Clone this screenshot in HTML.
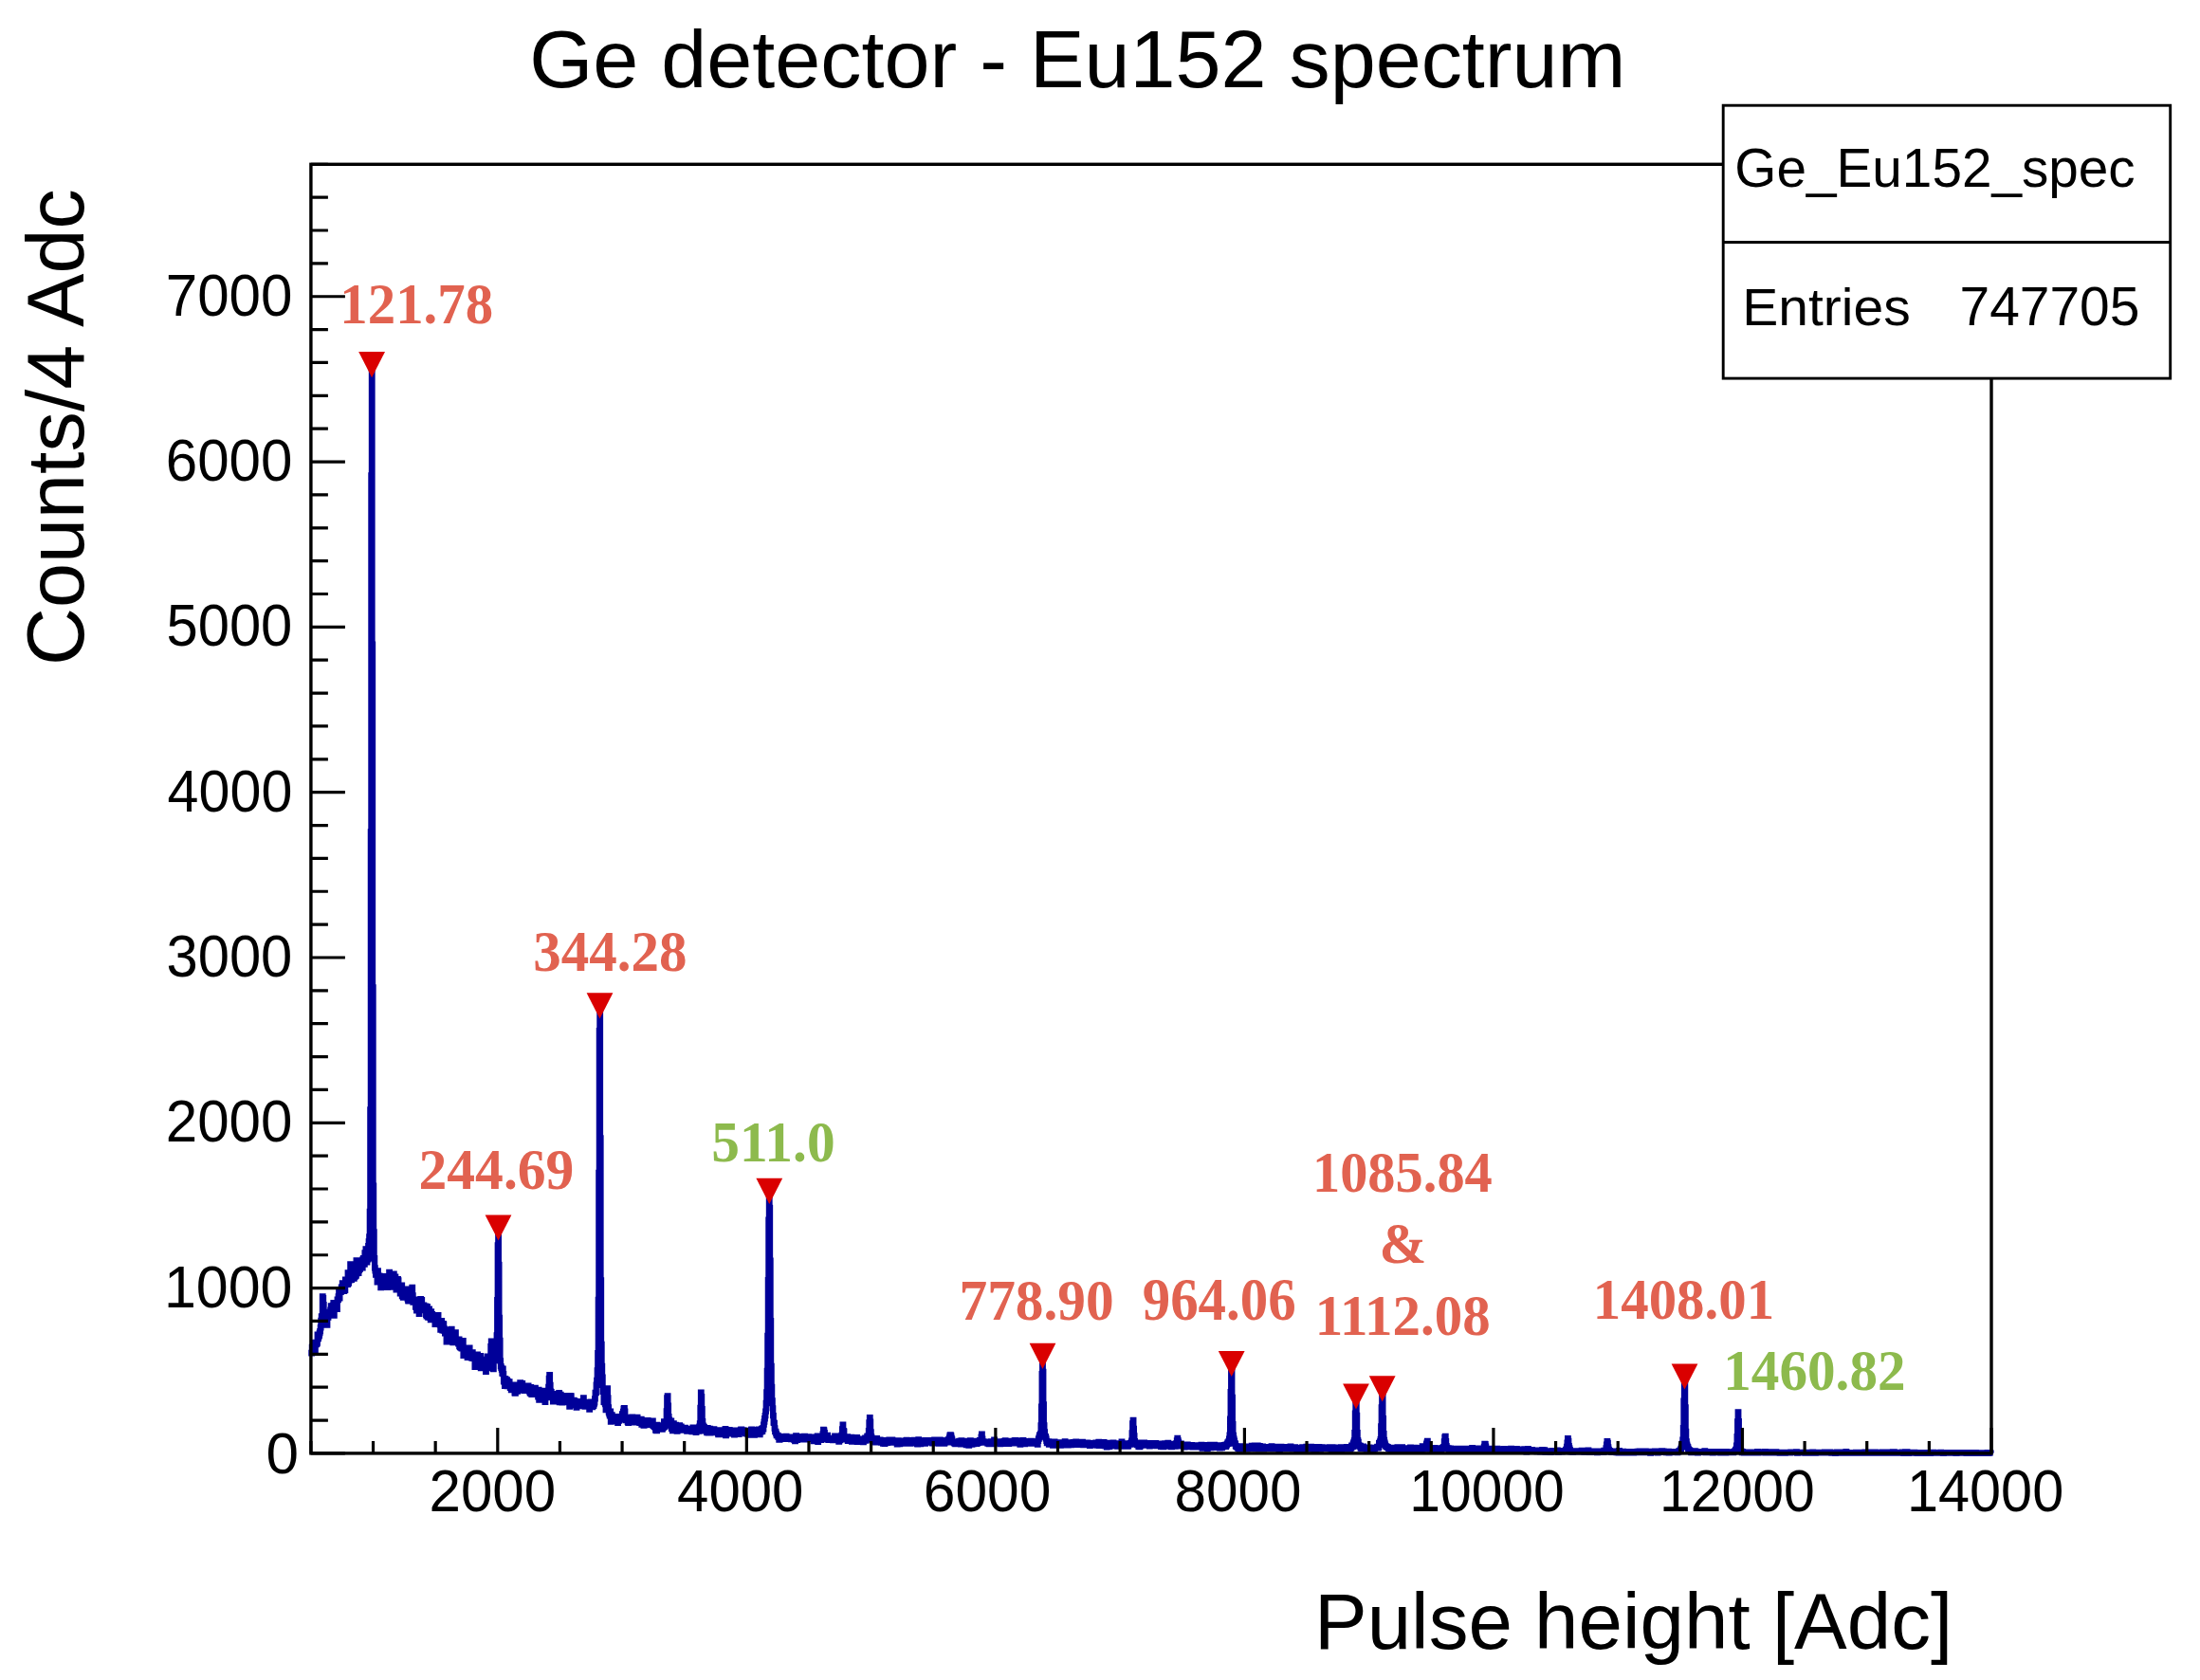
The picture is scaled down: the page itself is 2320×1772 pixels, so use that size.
<!DOCTYPE html>
<html><head><meta charset="utf-8"><title>Ge detector - Eu152 spectrum</title>
<style>html,body{margin:0;padding:0;background:#fff;}svg{display:block;}</style></head>
<body><svg width="2320" height="1772" viewBox="0 0 2320 1772">
<rect width="2320" height="1772" fill="#fff"/>
<path d="M327.90 1423.76H328.43V1427.38H328.95V1420.98H329.48V1420.67H330.00V1416.81H330.53V1420.20H331.05V1416.19H331.58V1422.40H332.10V1424.16H332.63V1416.00H333.15V1418.06H333.68V1417.60H334.20V1416.55H334.73V1407.68H335.25V1412.12H335.78V1409.85H336.30V1408.68H336.83V1406.01H337.35V1404.16H337.88V1400.23H338.40V1392.84H338.93V1388.39H339.45V1389.65H339.98V1367.45H340.50V1369.16H341.03V1376.05H341.55V1389.93H342.08V1390.29H342.60V1388.21H343.13V1389.68H343.65V1384.93H344.18V1392.54H344.70V1397.63H345.23V1383.96H345.75V1389.50H346.28V1385.59H346.80V1385.52H347.33V1387.53H347.85V1386.86H348.38V1381.75H348.90V1377.39H349.43V1387.09H349.95V1382.13H350.48V1378.52H351.00V1376.79H351.53V1374.18H352.05V1387.56H352.58V1374.72H353.10V1375.96H353.63V1378.09H354.15V1374.73H354.68V1374.49H355.20V1380.91H355.73V1370.59H356.25V1371.21H356.78V1367.46H357.30V1361.48H357.83V1369.28H358.35V1362.12H358.88V1362.81H359.40V1362.46H359.93V1357.67H360.45V1358.95H360.98V1353.42H361.50V1359.74H362.03V1361.47H362.55V1361.86H363.08V1359.35H363.60V1360.75H364.13V1349.55H364.65V1351.39H365.18V1354.72H365.70V1351.97H366.23V1354.85H366.75V1342.47H367.28V1353.64H367.81V1344.52H368.33V1349.77H368.86V1350.43H369.38V1333.31H369.91V1346.71H370.43V1349.89H370.96V1344.48H371.48V1342.04H372.01V1347.00H372.53V1343.97H373.06V1348.64H373.58V1344.27H374.11V1346.71H374.63V1335.68H375.16V1345.68H375.68V1329.46H376.21V1343.02H376.73V1335.24H377.26V1334.58H377.78V1342.95H378.31V1339.88H378.83V1335.59H379.36V1338.71H379.88V1335.31H380.41V1332.50H380.93V1334.59H381.46V1331.34H381.98V1337.42H382.51V1328.39H383.03V1327.06H383.56V1330.92H384.08V1333.61H384.61V1321.48H385.13V1324.59H385.66V1317.40H386.18V1321.92H386.71V1331.30H387.23V1317.84H387.76V1328.25H388.28V1314.14H388.81V1309.48H389.33V1304.52H389.86V1278.02H390.38V1170.52H390.91V877.40H391.43V501.36H391.96V384.60H392.48V679.59H393.01V1041.30H393.53V1250.67H394.06V1299.42H394.58V1327.26H395.11V1337.46H395.63V1340.41H396.16V1344.64H396.68V1342.22H397.21V1342.23H397.73V1352.30H398.26V1340.36H398.78V1350.39H399.31V1347.19H399.83V1345.60H400.36V1348.61H400.88V1348.94H401.41V1358.00H401.93V1348.38H402.46V1355.51H402.98V1350.64H403.51V1347.54H404.03V1350.23H404.56V1349.21H405.08V1348.93H405.61V1347.16H406.13V1352.37H406.66V1346.16H407.19V1350.32H407.71V1348.42H408.24V1357.92H408.76V1352.75H409.29V1354.55H409.81V1351.75H410.34V1341.85H410.86V1357.57H411.39V1351.52H411.91V1348.72H412.44V1345.63H412.96V1348.32H413.49V1346.41H414.01V1356.80H414.54V1349.27H415.06V1343.66H415.59V1353.66H416.11V1353.32H416.64V1346.76H417.16V1349.53H417.69V1360.30H418.21V1351.07H418.74V1359.62H419.26V1349.06H419.79V1350.50H420.31V1357.57H420.84V1359.60H421.36V1359.70H421.89V1364.25H422.41V1363.76H422.94V1363.27H423.46V1355.62H423.99V1367.08H424.51V1364.17H425.04V1368.52H425.56V1359.83H426.09V1363.15H426.61V1365.87H427.14V1362.07H427.66V1359.61H428.19V1364.99H428.71V1367.57H429.24V1361.55H429.76V1370.19H430.29V1372.17H430.81V1372.23H431.34V1364.13H431.86V1370.73H432.39V1364.89H432.91V1368.83H433.44V1368.02H433.96V1372.41H434.49V1357.97H435.01V1366.35H435.54V1373.70H436.06V1372.89H436.59V1371.20H437.11V1370.54H437.64V1370.93H438.16V1378.57H438.69V1371.09H439.21V1382.27H439.74V1377.42H440.26V1374.63H440.79V1379.55H441.31V1381.66H441.84V1385.84H442.36V1370.61H442.89V1373.01H443.41V1370.23H443.94V1374.26H444.46V1371.06H444.99V1378.70H445.51V1380.42H446.04V1380.37H446.57V1376.60H447.09V1382.03H447.62V1377.67H448.14V1380.43H448.67V1377.70H449.19V1386.83H449.72V1388.40H450.24V1378.12H450.77V1381.76H451.29V1389.56H451.82V1384.46H452.34V1380.55H452.87V1387.16H453.39V1389.74H453.92V1392.00H454.44V1383.45H454.97V1386.15H455.49V1386.19H456.02V1390.82H456.54V1389.83H457.07V1390.16H457.59V1388.42H458.12V1389.50H458.64V1396.80H459.17V1390.61H459.69V1395.84H460.22V1390.69H460.74V1393.10H461.27V1395.06H461.79V1387.10H462.32V1394.31H462.84V1394.74H463.37V1394.59H463.89V1397.40H464.42V1402.58H464.94V1397.09H465.47V1393.24H465.99V1398.57H466.52V1403.30H467.04V1396.04H467.57V1396.62H468.09V1401.51H468.62V1403.87H469.14V1406.39H469.67V1402.46H470.19V1406.37H470.72V1415.47H471.24V1409.01H471.77V1412.92H472.29V1412.68H472.82V1409.78H473.34V1408.21H473.87V1403.82H474.39V1410.99H474.92V1413.42H475.44V1408.00H475.97V1401.83H476.49V1408.41H477.02V1413.80H477.54V1416.08H478.07V1414.51H478.59V1410.43H479.12V1415.24H479.64V1408.35H480.17V1405.31H480.69V1416.20H481.22V1413.60H481.74V1412.78H482.27V1414.48H482.79V1416.04H483.32V1417.44H483.84V1412.77H484.37V1419.95H484.89V1420.91H485.42V1421.28H485.95V1417.80H486.47V1422.16H487.00V1422.24H487.52V1420.25H488.05V1414.11H488.57V1429.90H489.10V1421.54H489.62V1421.62H490.15V1423.78H490.67V1426.39H491.20V1425.44H491.72V1429.52H492.25V1427.53H492.77V1431.77H493.30V1423.70H493.82V1423.94H494.35V1424.76H494.87V1421.74H495.40V1430.56H495.92V1428.28H496.45V1427.90H496.97V1432.25H497.50V1430.98H498.02V1426.30H498.55V1432.87H499.07V1432.04H499.60V1430.03H500.12V1429.79H500.65V1441.85H501.17V1438.20H501.70V1436.93H502.22V1436.39H502.75V1433.34H503.27V1428.66H503.80V1437.16H504.32V1433.80H504.85V1435.75H505.37V1430.74H505.90V1438.03H506.42V1430.21H506.95V1442.98H507.47V1437.38H508.00V1438.44H508.52V1435.51H509.05V1437.91H509.57V1436.31H510.10V1436.49H510.62V1438.14H511.15V1434.02H511.67V1437.77H512.20V1446.84H512.72V1436.48H513.25V1436.17H513.77V1430.74H514.30V1436.00H514.82V1440.48H515.35V1443.07H515.87V1439.25H516.40V1432.54H516.92V1431.66H517.45V1420.13H517.97V1414.55H518.50V1426.40H519.02V1434.98H519.55V1436.01H520.07V1444.15H520.60V1435.21H521.12V1434.12H521.65V1432.77H522.17V1431.56H522.70V1431.66H523.22V1423.37H523.75V1408.48H524.27V1371.22H524.80V1313.52H525.33V1295.00H525.85V1333.84H526.38V1389.86H526.90V1413.91H527.43V1435.30H527.95V1441.11H528.48V1442.82H529.00V1444.50H529.53V1448.50H530.05V1443.54H530.58V1449.09H531.10V1457.23H531.63V1456.19H532.15V1461.91H532.68V1454.16H533.20V1459.07H533.73V1459.78H534.25V1455.28H534.78V1462.18H535.30V1456.78H535.83V1458.48H536.35V1462.11H536.88V1457.29H537.40V1461.95H537.93V1463.80H538.45V1462.04H538.98V1466.20H539.50V1461.77H540.03V1460.60H540.55V1465.35H541.08V1460.62H541.60V1461.38H542.13V1463.47H542.65V1469.41H543.18V1469.72H543.70V1464.25H544.23V1460.85H544.75V1460.57H545.28V1467.55H545.80V1462.08H546.33V1466.24H546.85V1466.10H547.38V1463.60H547.90V1465.69H548.43V1458.29H548.95V1466.45H549.48V1465.43H550.00V1461.44H550.53V1459.23H551.05V1465.03H551.58V1462.82H552.10V1464.47H552.63V1466.87H553.15V1462.44H553.68V1466.02H554.20V1466.04H554.73V1462.81H555.25V1466.68H555.78V1465.96H556.30V1462.87H556.83V1461.71H557.35V1463.51H557.88V1466.35H558.40V1468.15H558.93V1469.50H559.45V1463.16H559.98V1465.28H560.50V1470.95H561.03V1466.26H561.55V1468.23H562.08V1467.24H562.60V1467.58H563.13V1467.77H563.65V1469.00H564.18V1464.01H564.71V1468.80H565.23V1470.03H565.76V1467.70H566.28V1468.78H566.81V1466.90H567.33V1473.32H567.86V1465.95H568.38V1476.67H568.91V1472.41H569.43V1470.68H569.96V1472.34H570.48V1473.54H571.01V1471.48H571.53V1472.98H572.06V1469.44H572.58V1472.27H573.11V1474.95H573.63V1475.25H574.16V1466.80H574.68V1478.77H575.21V1474.07H575.73V1473.86H576.26V1468.72H576.78V1471.95H577.31V1474.17H577.83V1467.34H578.36V1462.78H578.88V1454.02H579.41V1450.15H579.93V1460.90H580.46V1467.57H580.98V1468.03H581.51V1472.52H582.03V1473.88H582.56V1472.60H583.08V1478.38H583.61V1474.11H584.13V1471.53H584.66V1470.09H585.18V1471.74H585.71V1472.95H586.23V1473.85H586.76V1475.79H587.28V1474.03H587.81V1474.05H588.33V1476.28H588.86V1473.18H589.38V1469.19H589.91V1478.98H590.43V1474.69H590.96V1470.85H591.48V1476.35H592.01V1476.95H592.53V1479.33H593.06V1475.79H593.58V1476.39H594.11V1479.07H594.63V1473.00H595.16V1472.13H595.68V1477.92H596.21V1476.89H596.73V1473.64H597.26V1474.69H597.78V1474.70H598.31V1478.58H598.83V1477.71H599.36V1478.62H599.88V1476.42H600.41V1483.70H600.93V1472.17H601.46V1482.27H601.98V1472.51H602.51V1477.43H603.03V1479.67H603.56V1480.73H604.09V1479.86H604.61V1476.78H605.14V1478.73H605.66V1477.41H606.19V1478.62H606.71V1478.65H607.24V1481.34H607.76V1484.62H608.29V1480.64H608.81V1478.74H609.34V1481.58H609.86V1481.00H610.39V1479.68H610.91V1478.07H611.44V1480.16H611.96V1482.24H612.49V1480.78H613.01V1483.16H613.54V1481.69H614.06V1479.48H614.59V1480.39H615.11V1474.32H615.64V1482.49H616.16V1482.65H616.69V1483.55H617.21V1481.79H617.74V1480.02H618.26V1483.30H618.79V1482.57H619.31V1483.62H619.84V1480.82H620.36V1482.17H620.89V1478.92H621.41V1486.64H621.94V1482.20H622.46V1481.46H622.99V1478.64H623.51V1479.79H624.04V1482.22H624.56V1484.11H625.09V1480.63H625.61V1482.78H626.14V1481.07H626.66V1479.27H627.19V1475.38H627.71V1468.99H628.24V1469.12H628.76V1460.77H629.29V1455.91H629.81V1445.36H630.34V1427.03H630.86V1370.82H631.39V1236.79H631.91V1087.13H632.44V1060.80H632.96V1200.30H633.49V1350.44H634.01V1417.97H634.54V1440.90H635.06V1452.75H635.59V1467.87H636.11V1465.67H636.64V1478.75H637.16V1479.09H637.69V1478.43H638.21V1481.03H638.74V1487.17H639.26V1477.20H639.79V1468.91H640.31V1464.45H640.84V1474.49H641.36V1484.36H641.89V1489.58H642.41V1491.31H642.94V1493.26H643.47V1488.70H643.99V1499.62H644.52V1497.36H645.04V1492.48H645.57V1496.90H646.09V1497.09H646.62V1498.13H647.14V1499.03H647.67V1499.04H648.19V1497.42H648.72V1498.61H649.24V1498.76H649.77V1497.88H650.29V1497.44H650.82V1496.11H651.34V1500.86H651.87V1494.20H652.39V1498.64H652.92V1496.70H653.44V1497.40H653.97V1497.15H654.49V1496.37H655.02V1496.65H655.54V1497.05H656.07V1491.51H656.59V1494.64H657.12V1488.88H657.64V1485.65H658.17V1485.14H658.69V1488.66H659.22V1495.32H659.74V1498.03H660.27V1496.41H660.79V1494.87H661.32V1496.89H661.84V1499.84H662.37V1500.95H662.89V1499.80H663.42V1496.71H663.94V1495.98H664.47V1497.17H664.99V1498.06H665.52V1499.55H666.04V1494.95H666.57V1494.66H667.09V1497.47H667.62V1500.29H668.14V1497.77H668.67V1498.51H669.19V1498.95H669.72V1498.81H670.24V1496.29H670.77V1498.95H671.29V1499.55H671.82V1494.81H672.34V1499.99H672.87V1496.88H673.39V1497.92H673.92V1499.99H674.44V1500.73H674.97V1496.88H675.49V1497.18H676.02V1496.88H676.54V1502.51H677.07V1500.46H677.59V1499.76H678.12V1498.76H678.64V1503.68H679.17V1500.46H679.69V1498.87H680.22V1503.06H680.74V1498.65H681.27V1498.69H681.79V1501.25H682.32V1499.21H682.85V1498.06H683.37V1502.69H683.90V1501.69H684.42V1500.99H684.95V1502.96H685.47V1499.29H686.00V1502.59H686.52V1502.77H687.05V1502.81H687.57V1501.37H688.10V1498.59H688.62V1503.81H689.15V1504.15H689.67V1504.33H690.20V1505.08H690.72V1505.24H691.25V1508.65H691.77V1503.32H692.30V1509.10H692.82V1502.88H693.35V1505.10H693.87V1505.40H694.40V1505.11H694.92V1504.37H695.45V1503.93H695.97V1506.75H696.50V1504.98H697.02V1503.65H697.55V1504.39H698.07V1507.49H698.60V1503.62H699.12V1506.22H699.65V1504.58H700.17V1499.38H700.70V1504.74H701.22V1499.55H701.75V1503.61H702.27V1499.70H702.80V1488.28H703.32V1474.30H703.85V1472.45H704.37V1482.73H704.90V1494.14H705.42V1497.54H705.95V1503.15H706.47V1501.94H707.00V1502.24H707.52V1498.55H708.05V1506.79H708.57V1503.95H709.10V1509.03H709.62V1507.57H710.15V1501.36H710.67V1506.11H711.20V1505.96H711.72V1504.48H712.25V1503.01H712.77V1506.71H713.30V1505.53H713.82V1509.53H714.35V1508.35H714.87V1506.58H715.40V1505.69H715.92V1505.70H716.45V1503.48H716.97V1507.18H717.50V1508.37H718.02V1504.53H718.55V1506.63H719.07V1508.28H719.60V1508.00H720.12V1507.57H720.65V1508.48H721.17V1506.43H721.70V1508.67H722.23V1505.87H722.75V1507.23H723.28V1508.14H723.80V1508.01H724.33V1509.66H724.85V1508.93H725.38V1508.95H725.90V1509.12H726.43V1507.51H726.95V1508.27H727.48V1508.88H728.00V1509.35H728.53V1506.85H729.05V1508.94H729.58V1510.15H730.10V1508.38H730.63V1505.71H731.15V1510.01H731.68V1508.09H732.20V1509.87H732.73V1509.43H733.25V1507.20H733.78V1510.74H734.30V1508.92H734.83V1508.22H735.35V1507.40H735.88V1506.79H736.40V1509.57H736.93V1506.45H737.45V1504.77H737.98V1501.32H738.50V1484.87H739.03V1468.55H739.55V1473.05H740.08V1486.13H740.60V1499.13H741.13V1503.73H741.65V1507.50H742.18V1504.90H742.70V1509.46H743.23V1507.80H743.75V1506.23H744.28V1508.69H744.80V1508.29H745.33V1511.12H745.85V1506.09H746.38V1506.68H746.90V1511.43H747.43V1510.25H747.95V1507.88H748.48V1506.99H749.00V1511.29H749.53V1509.96H750.05V1509.67H750.58V1510.86H751.10V1510.72H751.63V1509.83H752.15V1508.36H752.68V1507.32H753.20V1508.37H753.73V1510.74H754.25V1510.89H754.78V1509.86H755.30V1510.61H755.83V1508.69H756.35V1508.99H756.88V1511.81H757.40V1513.00H757.93V1509.60H758.45V1509.30H758.98V1513.00H759.50V1508.41H760.03V1511.08H760.55V1512.71H761.08V1509.30H761.61V1509.90H762.13V1510.04H762.66V1509.90H763.18V1509.60H763.71V1510.19H764.23V1509.90H764.76V1507.08H765.28V1514.20H765.81V1510.05H766.33V1510.64H766.86V1510.05H767.38V1510.35H767.91V1511.98H768.43V1508.27H768.96V1508.13H769.48V1510.50H770.01V1510.05H770.53V1510.20H771.06V1511.69H771.58V1508.72H772.11V1512.28H772.63V1510.50H773.16V1511.39H773.68V1510.50H774.21V1513.32H774.73V1510.65H775.26V1510.95H775.78V1510.95H776.31V1508.73H776.83V1510.65H777.36V1509.77H777.88V1509.17H778.41V1511.40H778.93V1512.88H779.46V1510.36H779.98V1510.81H780.51V1509.62H781.03V1507.99H781.56V1507.55H782.08V1510.96H782.61V1509.62H783.13V1508.44H783.66V1511.26H784.18V1508.59H784.71V1508.74H785.23V1510.22H785.76V1510.37H786.28V1512.15H786.81V1510.52H787.33V1509.33H787.86V1512.30H788.38V1510.37H788.91V1512.89H789.43V1509.48H789.96V1509.78H790.48V1512.30H791.01V1513.49H791.53V1509.64H792.06V1507.86H792.58V1507.71H793.11V1510.97H793.63V1510.97H794.16V1508.16H794.68V1510.68H795.21V1513.49H795.73V1509.05H796.26V1512.75H796.78V1511.86H797.31V1509.79H797.83V1512.60H798.36V1511.72H798.88V1510.23H799.41V1509.48H799.93V1507.55H800.46V1511.37H800.99V1513.10H801.51V1509.45H802.04V1510.33H802.56V1507.99H803.09V1506.94H803.61V1509.75H804.14V1506.37H804.66V1507.33H805.19V1502.55H805.71V1499.72H806.24V1496.23H806.76V1493.04H807.29V1488.65H807.81V1479.98H808.34V1468.30H808.86V1446.00H809.39V1408.90H809.91V1350.26H810.44V1286.71H810.96V1256.40H811.49V1274.01H812.01V1329.57H812.54V1393.07H813.06V1440.79H813.59V1462.92H814.11V1477.38H814.64V1485.44H815.16V1493.04H815.69V1500.57H816.21V1500.85H816.74V1506.52H817.26V1510.10H817.79V1509.82H818.31V1512.21H818.84V1514.14H819.36V1513.98H819.89V1513.90H820.41V1515.60H820.94V1515.00H821.46V1518.49H821.99V1518.40H822.51V1517.11H823.04V1516.54H823.56V1517.28H824.09V1516.99H824.61V1517.88H825.14V1517.29H825.66V1516.84H826.19V1515.66H826.71V1515.66H827.24V1515.81H827.76V1515.22H828.29V1516.26H828.81V1514.78H829.34V1516.11H829.86V1517.15H830.39V1517.30H830.91V1516.41H831.44V1517.75H831.96V1517.16H832.49V1515.53H833.01V1517.46H833.54V1517.01H834.06V1518.20H834.59V1516.42H835.11V1515.53H835.64V1517.46H836.16V1515.83H836.69V1517.76H837.21V1518.50H837.74V1518.36H838.26V1520.14H838.79V1517.62H839.31V1514.51H839.84V1517.62H840.37V1518.81H840.89V1517.33H841.42V1516.44H841.94V1517.33H842.47V1515.11H842.99V1516.89H843.52V1517.33H844.04V1516.45H844.57V1517.48H845.09V1517.78H845.62V1517.78H846.14V1518.38H846.67V1516.60H847.19V1517.94H847.72V1517.05H848.24V1514.83H848.77V1517.35H849.29V1518.24H849.82V1518.24H850.34V1515.28H850.87V1515.43H851.39V1517.21H851.92V1517.65H852.44V1515.43H852.97V1516.03H853.49V1515.88H854.02V1516.77H854.54V1516.77H855.07V1517.96H855.59V1516.92H856.12V1515.59H856.64V1517.37H857.17V1516.48H857.69V1520.19H858.22V1516.78H858.74V1517.67H859.27V1519.45H859.79V1517.82H860.32V1519.90H860.84V1518.86H861.37V1517.83H861.89V1514.72H862.42V1520.79H862.94V1518.27H863.47V1518.56H863.99V1515.87H864.52V1516.86H865.04V1518.68H865.57V1518.96H866.09V1515.73H866.62V1515.86H867.14V1516.14H867.67V1512.50H868.19V1507.85H868.72V1508.75H869.24V1511.14H869.77V1517.46H870.29V1515.77H870.82V1518.14H871.34V1516.32H871.87V1517.23H872.39V1513.92H872.92V1517.08H873.44V1518.88H873.97V1516.97H874.49V1518.60H875.02V1518.16H875.54V1517.27H876.07V1517.57H876.59V1517.57H877.12V1518.91H877.64V1518.91H878.17V1519.06H878.69V1519.21H879.22V1518.91H879.75V1517.58H880.27V1514.62H880.80V1517.88H881.32V1518.47H881.85V1517.73H882.37V1516.40H882.90V1515.96H883.42V1518.02H883.95V1518.75H884.47V1520.62H885.00V1514.74H885.52V1519.15H886.05V1515.72H886.57V1516.72H887.10V1516.06H887.62V1513.54H888.15V1507.49H888.67V1502.65H889.20V1509.20H889.72V1509.60H890.25V1517.11H890.77V1516.71H891.30V1518.45H891.82V1516.73H892.35V1517.99H892.87V1518.11H893.40V1515.50H893.92V1519.97H894.45V1518.80H894.97V1518.36H895.50V1517.33H896.02V1518.66H896.55V1517.33H897.07V1518.96H897.60V1515.85H898.12V1520.59H898.65V1520.45H899.17V1518.23H899.70V1517.93H900.22V1516.45H900.75V1518.53H901.27V1518.53H901.80V1516.31H902.32V1518.69H902.85V1518.69H903.37V1516.18H903.90V1520.93H904.42V1518.27H904.95V1518.57H905.47V1518.13H906.00V1519.77H906.52V1518.30H907.05V1519.04H907.57V1518.31H908.10V1517.57H908.62V1517.73H909.15V1519.07H909.67V1518.78H910.20V1521.15H910.72V1518.49H911.25V1517.75H911.77V1518.93H912.30V1516.67H912.82V1519.70H913.35V1518.62H913.87V1518.27H914.40V1514.89H914.92V1514.74H915.45V1516.59H915.97V1509.22H916.50V1500.52H917.02V1495.25H917.55V1499.76H918.07V1510.34H918.60V1515.44H919.13V1516.81H919.65V1517.29H920.18V1519.96H920.70V1519.44H921.23V1520.24H921.75V1520.64H922.28V1518.32H922.80V1518.63H923.33V1521.31H923.85V1521.03H924.38V1517.18H924.90V1519.11H925.43V1519.27H925.95V1520.46H926.48V1520.47H927.00V1520.32H927.53V1518.70H928.05V1521.37H928.58V1519.01H929.10V1521.53H929.63V1519.61H930.15V1521.55H930.68V1519.18H931.20V1522.60H931.73V1519.94H932.25V1521.42H932.78V1522.91H933.30V1521.59H933.83V1521.89H934.35V1519.97H934.88V1521.75H935.40V1521.91H935.93V1519.99H936.45V1520.88H936.98V1520.00H937.50V1518.67H938.03V1521.64H938.55V1519.86H939.08V1521.19H939.60V1520.45H940.13V1521.05H940.65V1518.67H941.18V1521.64H941.70V1520.01H942.23V1521.34H942.75V1520.75H943.28V1520.01H943.80V1519.71H944.33V1520.89H944.85V1521.49H945.38V1519.71H945.90V1523.26H946.43V1522.08H946.95V1519.41H947.48V1520.74H948.00V1520.15H948.53V1523.11H949.05V1522.22H949.58V1522.37H950.10V1520.00H950.63V1520.44H951.15V1520.89H951.68V1520.15H952.20V1520.44H952.73V1521.18H953.25V1521.03H953.78V1519.55H954.30V1522.66H954.83V1520.14H955.35V1519.40H955.88V1518.81H956.40V1521.03H956.93V1522.07H957.45V1519.99H957.98V1522.22H958.51V1522.07H959.03V1522.66H959.56V1522.66H960.08V1521.18H960.61V1519.25H961.13V1521.47H961.66V1521.47H962.18V1521.62H962.71V1520.43H963.23V1519.25H963.76V1518.80H964.28V1522.21H964.81V1522.06H965.33V1522.06H965.86V1520.88H966.38V1521.02H966.91V1522.80H967.43V1523.39H967.96V1522.21H968.48V1518.35H969.01V1522.35H969.53V1521.02H970.06V1520.13H970.58V1523.09H971.11V1521.76H971.63V1520.87H972.16V1520.72H972.68V1520.13H973.21V1519.38H973.73V1521.90H974.26V1520.42H974.78V1522.49H975.31V1522.64H975.83V1519.23H976.36V1519.97H976.88V1520.86H977.41V1519.23H977.93V1520.41H978.46V1520.56H978.98V1519.97H979.51V1521.00H980.03V1520.71H980.56V1519.67H981.08V1520.70H981.61V1521.44H982.13V1521.59H982.66V1520.11H983.18V1522.33H983.71V1522.18H984.23V1519.07H984.76V1521.29H985.28V1518.63H985.81V1521.00H986.33V1520.56H986.86V1520.12H987.38V1519.82H987.91V1519.82H988.43V1521.31H988.96V1521.01H989.48V1519.98H990.01V1522.50H990.53V1519.09H991.06V1518.65H991.58V1519.84H992.11V1519.25H992.63V1521.03H993.16V1520.14H993.68V1520.59H994.21V1521.33H994.73V1521.48H995.26V1522.67H995.78V1522.23H996.31V1520.45H996.83V1520.75H997.36V1521.03H997.89V1519.38H998.41V1520.21H998.94V1519.66H999.46V1518.74H999.99V1521.27H1000.51V1518.08H1001.04V1516.49H1001.56V1513.78H1002.09V1513.35H1002.61V1514.14H1003.14V1516.64H1003.66V1518.33H1004.19V1521.04H1004.71V1520.54H1005.24V1520.63H1005.76V1521.67H1006.29V1522.35H1006.81V1521.80H1007.34V1523.01H1007.86V1522.13H1008.39V1521.10H1008.91V1521.69H1009.44V1521.25H1009.96V1521.85H1010.49V1521.41H1011.01V1520.37H1011.54V1519.93H1012.06V1521.12H1012.59V1519.78H1013.11V1523.34H1013.64V1519.34H1014.16V1522.01H1014.69V1519.94H1015.21V1521.57H1015.74V1521.42H1016.26V1521.72H1016.79V1521.87H1017.31V1521.72H1017.84V1521.27H1018.36V1522.31H1018.89V1524.09H1019.41V1520.53H1019.94V1523.79H1020.46V1519.79H1020.99V1522.16H1021.51V1524.53H1022.04V1520.38H1022.56V1521.27H1023.09V1519.49H1023.61V1521.71H1024.14V1522.01H1024.66V1523.64H1025.19V1522.16H1025.71V1519.79H1026.24V1523.05H1026.76V1522.90H1027.29V1521.71H1027.81V1519.93H1028.34V1521.27H1028.86V1522.75H1029.39V1521.11H1029.91V1522.74H1030.44V1521.97H1030.96V1521.63H1031.49V1521.85H1032.01V1521.57H1032.54V1520.62H1033.06V1519.03H1033.59V1520.30H1034.11V1520.08H1034.64V1515.55H1035.16V1512.65H1035.69V1517.63H1036.21V1521.11H1036.74V1520.36H1037.27V1521.64H1037.79V1520.91H1038.32V1520.57H1038.84V1521.22H1039.37V1521.54H1039.89V1521.70H1040.42V1521.70H1040.94V1521.11H1041.47V1522.60H1041.99V1521.41H1042.52V1521.56H1043.04V1523.19H1043.57V1521.56H1044.09V1521.56H1044.62V1521.85H1045.14V1520.52H1045.67V1521.70H1046.19V1523.19H1046.72V1520.82H1047.24V1520.81H1047.77V1522.15H1048.29V1518.74H1048.82V1520.52H1049.34V1521.55H1049.87V1521.26H1050.39V1522.30H1050.92V1520.81H1051.44V1521.85H1051.97V1521.85H1052.49V1522.44H1053.02V1521.70H1053.54V1520.96H1054.07V1520.66H1054.59V1523.18H1055.12V1522.00H1055.64V1520.51H1056.17V1522.89H1056.69V1522.89H1057.22V1520.37H1057.74V1521.70H1058.27V1522.44H1058.79V1520.07H1059.32V1520.07H1059.84V1519.33H1060.37V1521.99H1060.89V1520.22H1061.42V1521.70H1061.94V1521.99H1062.47V1521.40H1062.99V1519.92H1063.52V1522.73H1064.04V1521.99H1064.57V1520.81H1065.09V1521.70H1065.62V1522.44H1066.14V1520.21H1066.67V1520.66H1067.19V1522.14H1067.72V1522.44H1068.24V1520.81H1068.77V1521.55H1069.29V1519.62H1069.82V1521.25H1070.34V1519.03H1070.87V1522.29H1071.39V1519.47H1071.92V1521.10H1072.44V1520.36H1072.97V1522.14H1073.49V1520.51H1074.02V1521.54H1074.54V1522.28H1075.07V1520.36H1075.59V1523.62H1076.12V1519.33H1076.65V1519.33H1077.17V1522.44H1077.70V1521.41H1078.22V1523.19H1078.75V1519.04H1079.27V1521.86H1079.80V1520.83H1080.32V1523.20H1080.85V1521.28H1081.37V1522.02H1081.90V1521.58H1082.42V1520.99H1082.95V1520.25H1083.47V1521.44H1084.00V1522.33H1084.52V1521.29H1085.05V1522.33H1085.57V1522.63H1086.10V1521.30H1086.62V1521.60H1087.15V1519.83H1087.67V1521.75H1088.20V1521.31H1088.72V1522.65H1089.25V1522.65H1089.77V1522.35H1090.30V1521.61H1090.82V1522.33H1091.35V1520.52H1091.87V1521.06H1092.40V1522.28H1092.92V1521.34H1093.45V1521.61H1093.97V1523.49H1094.50V1519.95H1095.02V1517.91H1095.55V1516.32H1096.07V1513.55H1096.60V1515.54H1097.12V1512.28H1097.65V1503.49H1098.17V1483.58H1098.70V1449.16H1099.22V1430.30H1099.75V1446.89H1100.27V1481.32H1100.80V1503.51H1101.32V1510.29H1101.85V1515.45H1102.37V1515.27H1102.90V1517.31H1103.42V1519.96H1103.95V1522.02H1104.47V1520.39H1105.00V1521.65H1105.52V1520.35H1106.05V1523.52H1106.57V1522.01H1107.10V1523.71H1107.62V1523.60H1108.15V1522.73H1108.67V1522.29H1109.20V1522.30H1109.72V1523.34H1110.25V1524.68H1110.77V1522.31H1111.30V1520.68H1111.82V1520.54H1112.35V1522.47H1112.87V1521.43H1113.40V1521.88H1113.92V1524.55H1114.45V1523.07H1114.97V1523.66H1115.50V1522.04H1116.03V1522.93H1116.55V1522.64H1117.08V1521.90H1117.60V1522.64H1118.13V1524.57H1118.65V1524.13H1119.18V1521.46H1119.70V1523.10H1120.23V1522.36H1120.75V1523.25H1121.28V1524.29H1121.80V1521.62H1122.33V1523.70H1122.85V1520.44H1123.38V1523.26H1123.90V1523.71H1124.43V1521.63H1124.95V1521.34H1125.48V1523.12H1126.00V1524.45H1126.53V1521.78H1127.05V1521.49H1127.58V1522.08H1128.10V1524.16H1128.63V1523.27H1129.15V1524.01H1129.68V1522.38H1130.20V1523.42H1130.73V1522.53H1131.25V1522.38H1131.78V1521.05H1132.30V1522.68H1132.83V1522.98H1133.35V1523.87H1133.88V1523.57H1134.40V1520.61H1134.93V1522.98H1135.45V1523.72H1135.98V1522.69H1136.50V1523.73H1137.03V1523.88H1137.55V1522.54H1138.08V1523.14H1138.60V1520.91H1139.13V1523.29H1139.65V1522.55H1140.18V1523.88H1140.70V1521.66H1141.23V1520.92H1141.75V1523.73H1142.28V1524.18H1142.80V1522.11H1143.33V1523.89H1143.85V1523.59H1144.38V1521.81H1144.90V1523.74H1145.43V1523.59H1145.95V1521.67H1146.48V1523.00H1147.00V1523.59H1147.53V1521.97H1148.05V1523.30H1148.58V1522.56H1149.10V1524.78H1149.63V1522.27H1150.15V1523.01H1150.68V1522.56H1151.20V1523.75H1151.73V1522.71H1152.25V1523.01H1152.78V1522.42H1153.30V1523.46H1153.83V1523.46H1154.35V1522.72H1154.88V1523.01H1155.41V1521.68H1155.93V1524.35H1156.46V1523.61H1156.98V1524.50H1157.51V1524.35H1158.03V1523.61H1158.56V1520.80H1159.08V1524.80H1159.61V1522.87H1160.13V1524.65H1160.66V1523.62H1161.18V1522.13H1161.71V1524.36H1162.23V1523.17H1162.76V1521.10H1163.28V1524.21H1163.81V1521.25H1164.33V1522.29H1164.86V1525.10H1165.38V1524.07H1165.91V1523.77H1166.43V1522.59H1166.96V1526.44H1167.48V1524.07H1168.01V1523.33H1168.53V1522.00H1169.06V1522.15H1169.58V1525.85H1170.11V1525.41H1170.63V1524.52H1171.16V1521.85H1171.68V1523.04H1172.21V1522.74H1172.73V1524.23H1173.26V1524.08H1173.78V1521.56H1174.31V1524.82H1174.83V1524.23H1175.36V1523.04H1175.88V1524.23H1176.41V1523.05H1176.93V1522.31H1177.46V1525.27H1177.98V1523.34H1178.51V1525.72H1179.03V1523.20H1179.56V1524.38H1180.08V1524.38H1180.61V1523.20H1181.13V1524.83H1181.66V1525.57H1182.18V1524.54H1182.71V1520.54H1183.23V1523.80H1183.76V1524.83H1184.28V1523.95H1184.81V1522.32H1185.33V1523.65H1185.86V1525.13H1186.38V1523.95H1186.91V1523.50H1187.43V1524.25H1187.96V1523.21H1188.48V1525.58H1189.01V1524.24H1189.53V1525.40H1190.06V1523.27H1190.58V1522.56H1191.11V1522.31H1191.63V1523.65H1192.16V1522.07H1192.68V1521.69H1193.21V1519.61H1193.73V1511.39H1194.26V1501.37H1194.79V1497.95H1195.31V1506.80H1195.84V1514.41H1196.36V1520.12H1196.89V1522.70H1197.41V1521.61H1197.94V1521.86H1198.46V1523.37H1198.99V1523.98H1199.51V1523.18H1200.04V1524.10H1200.56V1525.74H1201.09V1522.34H1201.61V1526.04H1202.14V1525.01H1202.66V1523.23H1203.19V1523.68H1203.71V1521.60H1204.24V1524.27H1204.76V1523.68H1205.29V1522.94H1205.81V1522.49H1206.34V1521.75H1206.86V1523.68H1207.39V1524.57H1207.91V1523.09H1208.44V1522.50H1208.96V1522.50H1209.49V1523.98H1210.01V1523.98H1210.54V1522.20H1211.06V1523.54H1211.59V1522.50H1212.11V1525.32H1212.64V1523.10H1213.16V1523.84H1213.69V1524.44H1214.21V1523.85H1214.74V1522.22H1215.26V1524.00H1215.79V1523.26H1216.31V1524.30H1216.84V1524.45H1217.36V1523.72H1217.89V1523.13H1218.41V1522.09H1218.94V1524.91H1219.46V1525.06H1219.99V1524.62H1220.51V1525.06H1221.04V1523.44H1221.56V1523.14H1222.09V1523.44H1222.61V1523.59H1223.14V1523.15H1223.66V1524.19H1224.19V1525.97H1224.71V1522.71H1225.24V1524.35H1225.76V1524.50H1226.29V1526.13H1226.81V1525.69H1227.34V1524.21H1227.86V1525.54H1228.39V1522.44H1228.91V1522.88H1229.44V1524.22H1229.96V1523.92H1230.49V1525.26H1231.01V1525.71H1231.54V1521.86H1232.06V1525.27H1232.59V1525.57H1233.11V1524.38H1233.64V1524.68H1234.17V1524.83H1234.69V1524.69H1235.22V1526.17H1235.74V1524.39H1236.27V1523.80H1236.79V1523.79H1237.32V1524.22H1237.84V1524.47H1238.37V1522.90H1238.89V1525.72H1239.42V1522.98H1239.94V1523.41H1240.47V1522.12H1240.99V1519.40H1241.52V1516.95H1242.04V1519.50H1242.57V1521.37H1243.09V1523.21H1243.62V1522.83H1244.14V1522.77H1244.67V1525.29H1245.19V1522.57H1245.72V1524.40H1246.24V1523.99H1246.77V1524.29H1247.29V1525.04H1247.82V1525.19H1248.34V1525.05H1248.87V1526.24H1249.39V1525.20H1249.92V1524.46H1250.44V1525.80H1250.97V1526.10H1251.49V1524.62H1252.02V1523.73H1252.54V1524.77H1253.07V1525.37H1253.59V1525.37H1254.12V1526.11H1254.64V1525.67H1255.17V1524.79H1255.69V1524.94H1256.22V1524.20H1256.74V1524.79H1257.27V1525.09H1257.79V1526.28H1258.32V1525.99H1258.84V1524.80H1259.37V1525.25H1259.89V1525.99H1260.42V1525.70H1260.94V1526.44H1261.47V1524.52H1261.99V1524.82H1262.52V1525.71H1263.04V1526.31H1263.57V1526.31H1264.09V1526.01H1264.62V1524.68H1265.14V1524.98H1265.67V1526.32H1266.19V1524.84H1266.72V1523.95H1267.24V1525.73H1267.77V1527.66H1268.29V1526.47H1268.82V1525.44H1269.34V1525.74H1269.87V1524.11H1270.39V1526.18H1270.92V1524.70H1271.44V1526.04H1271.97V1525.15H1272.49V1526.04H1273.02V1528.12H1273.55V1525.90H1274.07V1525.45H1274.60V1525.01H1275.12V1526.94H1275.65V1525.61H1276.17V1523.98H1276.70V1527.09H1277.22V1526.80H1277.75V1524.87H1278.27V1525.32H1278.80V1526.36H1279.32V1526.65H1279.85V1526.06H1280.37V1523.99H1280.90V1526.81H1281.42V1526.36H1281.95V1524.88H1282.47V1525.48H1283.00V1526.07H1283.52V1526.52H1284.05V1524.74H1284.57V1525.33H1285.10V1524.45H1285.62V1525.63H1286.15V1527.26H1286.67V1525.04H1287.20V1525.49H1287.72V1525.49H1288.25V1527.12H1288.77V1526.23H1289.30V1525.78H1289.82V1525.92H1290.35V1524.71H1290.87V1524.22H1291.40V1524.87H1291.92V1523.83H1292.45V1525.79H1292.97V1524.49H1293.50V1523.58H1294.02V1522.86H1294.55V1521.42H1295.07V1522.81H1295.60V1520.23H1296.12V1517.74H1296.65V1513.67H1297.17V1496.53H1297.70V1468.12H1298.22V1438.50H1298.75V1442.22H1299.27V1473.89H1299.80V1502.14H1300.32V1513.97H1300.85V1517.50H1301.37V1519.69H1301.90V1522.07H1302.42V1522.86H1302.95V1525.14H1303.47V1525.96H1304.00V1525.65H1304.52V1526.62H1305.05V1525.53H1305.57V1527.75H1306.10V1527.09H1306.62V1525.65H1307.15V1528.49H1307.67V1526.58H1308.20V1526.73H1308.72V1526.44H1309.25V1525.40H1309.77V1526.59H1310.30V1525.41H1310.82V1527.78H1311.35V1528.08H1311.87V1526.89H1312.40V1525.56H1312.93V1526.60H1313.45V1527.34H1313.98V1527.49H1314.50V1528.38H1315.03V1527.35H1315.55V1528.09H1316.08V1526.02H1316.60V1527.05H1317.13V1526.76H1317.65V1527.20H1318.18V1526.32H1318.70V1527.50H1319.23V1527.80H1319.75V1524.84H1320.28V1526.77H1320.80V1527.36H1321.33V1527.22H1321.85V1527.51H1322.38V1527.07H1322.90V1524.70H1323.43V1525.89H1323.95V1528.11H1324.48V1526.48H1325.00V1525.15H1325.53V1526.34H1326.05V1524.71H1326.58V1527.53H1327.10V1528.27H1327.63V1527.53H1328.15V1525.16H1328.68V1525.75H1329.20V1527.83H1329.73V1527.53H1330.25V1526.35H1330.78V1525.76H1331.30V1525.76H1331.83V1526.65H1332.35V1528.28H1332.88V1526.06H1333.40V1526.51H1333.93V1527.10H1334.45V1527.10H1334.98V1527.70H1335.50V1526.52H1336.03V1527.26H1336.55V1527.85H1337.08V1526.08H1337.60V1526.52H1338.13V1527.12H1338.65V1527.12H1339.18V1526.97H1339.70V1527.12H1340.23V1526.23H1340.75V1525.35H1341.28V1526.68H1341.80V1526.68H1342.33V1528.02H1342.85V1525.80H1343.38V1526.54H1343.90V1527.58H1344.43V1527.73H1344.95V1527.29H1345.48V1526.40H1346.00V1528.03H1346.53V1525.96H1347.05V1528.03H1347.58V1527.15H1348.10V1526.11H1348.63V1529.22H1349.15V1529.23H1349.68V1528.19H1350.20V1526.56H1350.73V1525.97H1351.25V1527.75H1351.78V1527.60H1352.31V1528.05H1352.83V1526.72H1353.36V1527.02H1353.88V1527.46H1354.41V1526.13H1354.93V1528.06H1355.46V1527.32H1355.98V1526.28H1356.51V1526.73H1357.03V1528.21H1357.56V1526.88H1358.08V1527.33H1358.61V1527.33H1359.13V1527.48H1359.66V1527.19H1360.18V1527.63H1360.71V1525.71H1361.23V1527.04H1361.76V1527.78H1362.28V1527.93H1362.81V1528.23H1363.33V1527.94H1363.86V1528.24H1364.38V1527.20H1364.91V1527.79H1365.43V1526.46H1365.96V1526.91H1366.48V1527.79H1367.01V1528.09H1367.53V1528.98H1368.06V1527.80H1368.58V1528.09H1369.11V1527.20H1369.63V1527.95H1370.16V1528.69H1370.68V1528.84H1371.21V1527.80H1371.73V1528.54H1372.26V1527.50H1372.78V1528.10H1373.31V1526.32H1373.83V1528.39H1374.36V1527.06H1374.88V1526.76H1375.41V1528.99H1375.93V1526.91H1376.46V1526.32H1376.98V1527.51H1377.51V1525.88H1378.03V1527.95H1378.56V1528.40H1379.08V1526.62H1379.61V1527.66H1380.13V1527.36H1380.66V1525.88H1381.18V1527.66H1381.71V1527.66H1382.23V1525.88H1382.76V1528.10H1383.28V1528.40H1383.81V1526.18H1384.33V1528.70H1384.86V1526.33H1385.38V1527.81H1385.91V1529.00H1386.43V1526.77H1386.96V1527.37H1387.48V1529.44H1388.01V1528.70H1388.53V1527.81H1389.06V1526.63H1389.58V1528.41H1390.11V1527.37H1390.63V1526.18H1391.16V1526.78H1391.69V1527.81H1392.21V1528.70H1392.74V1527.96H1393.26V1527.08H1393.79V1526.48H1394.31V1527.96H1394.84V1527.22H1395.36V1527.82H1395.89V1526.63H1396.41V1527.67H1396.94V1527.37H1397.46V1526.93H1397.99V1527.67H1398.51V1527.37H1399.04V1527.52H1399.56V1527.37H1400.09V1527.08H1400.61V1527.52H1401.14V1527.23H1401.66V1527.97H1402.19V1526.49H1402.71V1528.26H1403.24V1526.49H1403.76V1527.82H1404.29V1529.60H1404.81V1526.49H1405.34V1528.56H1405.86V1527.67H1406.39V1526.63H1406.91V1526.78H1407.44V1528.12H1407.96V1528.26H1408.49V1527.67H1409.01V1528.56H1409.54V1527.08H1410.06V1529.15H1410.59V1528.12H1411.11V1528.26H1411.64V1527.23H1412.16V1528.12H1412.69V1527.08H1413.21V1527.82H1413.74V1526.49H1414.26V1529.15H1414.79V1527.37H1415.31V1528.71H1415.84V1526.78H1416.36V1527.67H1416.89V1527.82H1417.41V1527.97H1417.94V1528.12H1418.46V1526.93H1418.99V1527.97H1419.51V1527.37H1420.04V1526.04H1420.56V1527.37H1421.09V1528.25H1421.61V1528.68H1422.14V1528.65H1422.66V1527.56H1423.19V1528.64H1423.71V1528.03H1424.24V1527.03H1424.76V1527.38H1425.29V1524.61H1425.81V1524.61H1426.34V1525.92H1426.86V1522.61H1427.39V1521.37H1427.91V1519.48H1428.44V1511.10H1428.96V1490.62H1429.49V1473.00H1430.01V1472.24H1430.54V1492.94H1431.07V1511.13H1431.59V1519.16H1432.12V1520.87H1432.64V1524.15H1433.17V1525.23H1433.69V1525.70H1434.22V1524.79H1434.74V1527.70H1435.27V1526.16H1435.79V1527.90H1436.32V1526.87H1436.84V1526.97H1437.37V1525.69H1437.89V1527.64H1438.42V1527.66H1438.94V1526.78H1439.47V1528.11H1439.99V1527.67H1440.52V1526.78H1441.04V1528.56H1441.57V1527.08H1442.09V1528.41H1442.62V1527.67H1443.14V1526.78H1443.67V1526.63H1444.19V1528.26H1444.72V1526.78H1445.24V1527.08H1445.77V1528.26H1446.29V1526.78H1446.82V1527.37H1447.34V1528.56H1447.87V1529.59H1448.39V1527.81H1448.92V1528.39H1449.44V1528.38H1449.97V1527.45H1450.49V1527.08H1451.02V1527.26H1451.54V1527.36H1452.07V1526.31H1452.59V1526.01H1453.12V1527.30H1453.64V1526.33H1454.17V1521.90H1454.69V1522.78H1455.22V1520.38H1455.74V1518.25H1456.27V1504.48H1456.79V1484.37H1457.32V1464.80H1457.84V1472.87H1458.37V1496.07H1458.89V1512.16H1459.42V1518.94H1459.94V1521.69H1460.47V1523.75H1460.99V1525.44H1461.52V1525.32H1462.04V1525.89H1462.57V1526.57H1463.09V1526.20H1463.62V1526.89H1464.14V1527.63H1464.67V1528.16H1465.19V1527.92H1465.72V1528.68H1466.24V1527.81H1466.77V1528.41H1467.29V1529.00H1467.82V1526.93H1468.34V1527.37H1468.87V1527.67H1469.39V1528.12H1469.92V1527.37H1470.45V1527.08H1470.97V1528.56H1471.50V1528.86H1472.02V1527.97H1472.55V1529.75H1473.07V1527.08H1473.60V1526.49H1474.12V1528.26H1474.65V1527.82H1475.17V1528.57H1475.70V1526.50H1476.22V1527.54H1476.75V1526.95H1477.27V1527.70H1477.80V1527.85H1478.32V1526.52H1478.85V1528.90H1479.37V1528.75H1479.90V1527.28H1480.42V1527.87H1480.95V1529.06H1481.47V1528.62H1482.00V1527.59H1482.52V1527.75H1483.05V1529.23H1483.57V1527.90H1484.10V1528.35H1484.62V1527.47H1485.15V1528.36H1485.67V1528.96H1486.20V1529.26H1486.72V1528.08H1487.25V1526.75H1487.77V1528.83H1488.30V1528.24H1488.82V1527.51H1489.35V1527.95H1489.87V1528.99H1490.40V1528.10H1490.92V1529.58H1491.45V1528.10H1491.97V1526.91H1492.50V1528.54H1493.02V1529.87H1493.55V1529.28H1494.07V1527.21H1494.60V1528.09H1495.12V1528.54H1495.65V1529.58H1496.17V1528.24H1496.70V1527.65H1497.22V1529.72H1497.75V1529.28H1498.27V1528.98H1498.80V1528.98H1499.32V1528.53H1499.85V1525.41H1500.37V1528.50H1500.90V1528.30H1501.42V1527.76H1501.95V1527.90H1502.47V1528.25H1503.00V1527.51H1503.52V1526.90H1504.05V1523.33H1504.57V1521.65H1505.10V1520.00H1505.62V1524.35H1506.15V1526.77H1506.67V1528.17H1507.20V1527.61H1507.72V1528.71H1508.25V1528.69H1508.77V1528.47H1509.30V1528.21H1509.83V1528.52H1510.35V1529.57H1510.88V1528.53H1511.40V1528.97H1511.93V1529.72H1512.45V1527.20H1512.98V1528.97H1513.50V1528.09H1514.03V1528.53H1514.55V1527.79H1515.08V1529.57H1515.60V1528.82H1516.13V1528.97H1516.65V1528.38H1517.18V1528.68H1517.70V1528.53H1518.23V1527.48H1518.75V1528.50H1519.28V1528.76H1519.80V1528.24H1520.33V1527.34H1520.85V1527.51H1521.38V1527.09H1521.90V1526.51H1522.43V1526.12H1522.95V1520.52H1523.48V1515.85H1524.00V1514.84H1524.53V1520.26H1525.05V1525.10H1525.58V1526.96H1526.10V1527.83H1526.63V1527.81H1527.15V1527.34H1527.68V1528.23H1528.20V1528.76H1528.73V1529.39H1529.25V1527.77H1529.78V1528.67H1530.30V1528.22H1530.83V1528.37H1531.35V1527.78H1531.88V1528.96H1532.40V1528.82H1532.93V1528.22H1533.45V1528.07H1533.98V1527.78H1534.50V1529.41H1535.03V1528.37H1535.55V1529.11H1536.08V1529.56H1536.60V1529.41H1537.13V1528.07H1537.65V1528.67H1538.18V1528.07H1538.70V1528.37H1539.23V1529.11H1539.75V1528.81H1540.28V1528.22H1540.80V1527.93H1541.33V1529.85H1541.85V1528.07H1542.38V1529.71H1542.90V1528.82H1543.43V1527.93H1543.95V1527.78H1544.48V1527.78H1545.00V1529.12H1545.53V1528.53H1546.05V1529.12H1546.58V1529.27H1547.10V1528.08H1547.63V1530.01H1548.15V1528.23H1548.68V1527.79H1549.21V1528.23H1549.73V1529.57H1550.26V1528.38H1550.78V1528.98H1551.31V1528.83H1551.83V1528.39H1552.36V1527.05H1552.88V1528.09H1553.41V1528.39H1553.93V1529.72H1554.46V1528.24H1554.98V1528.24H1555.51V1528.69H1556.03V1529.28H1556.56V1528.99H1557.08V1528.84H1557.61V1528.69H1558.13V1527.66H1558.66V1527.95H1559.18V1529.14H1559.71V1528.69H1560.23V1528.84H1560.76V1528.99H1561.28V1528.38H1561.81V1528.65H1562.33V1528.89H1562.86V1528.80H1563.38V1528.06H1563.91V1528.26H1564.43V1528.79H1564.96V1525.88H1565.48V1522.85H1566.01V1523.18H1566.53V1525.64H1567.06V1529.27H1567.58V1528.12H1568.11V1527.93H1568.63V1528.22H1569.16V1528.31H1569.68V1528.22H1570.21V1529.14H1570.73V1530.33H1571.26V1529.01H1571.78V1529.16H1572.31V1528.57H1572.83V1528.57H1573.36V1528.42H1573.88V1527.83H1574.41V1528.57H1574.93V1529.31H1575.46V1528.13H1575.98V1529.31H1576.51V1527.83H1577.03V1529.17H1577.56V1529.17H1578.08V1528.28H1578.61V1527.98H1579.13V1529.47H1579.66V1528.73H1580.18V1528.28H1580.71V1528.43H1581.23V1529.77H1581.76V1529.03H1582.28V1529.92H1582.81V1529.92H1583.33V1529.03H1583.86V1528.88H1584.38V1528.73H1584.91V1529.33H1585.43V1530.36H1585.96V1528.14H1586.48V1528.29H1587.01V1529.03H1587.53V1529.33H1588.06V1528.74H1588.59V1528.44H1589.11V1529.04H1589.64V1528.74H1590.16V1529.19H1590.69V1529.63H1591.21V1530.08H1591.74V1529.94H1592.26V1529.79H1592.79V1528.91H1593.31V1528.02H1593.84V1528.77H1594.36V1528.92H1594.89V1529.37H1595.41V1529.23H1595.94V1529.53H1596.46V1528.79H1596.99V1529.83H1597.51V1528.80H1598.04V1528.65H1598.56V1529.10H1599.09V1528.22H1599.61V1529.70H1600.14V1528.82H1600.66V1528.53H1601.19V1529.57H1601.71V1530.46H1602.24V1529.73H1602.76V1530.77H1603.29V1529.44H1603.81V1530.33H1604.34V1529.30H1604.86V1529.89H1605.39V1530.49H1605.91V1529.75H1606.44V1530.35H1606.96V1529.91H1607.49V1528.43H1608.01V1530.07H1608.54V1530.37H1609.06V1529.93H1609.59V1531.27H1610.11V1529.05H1610.64V1529.94H1611.16V1528.17H1611.69V1530.25H1612.21V1530.10H1612.74V1529.22H1613.26V1529.96H1613.79V1529.67H1614.31V1529.38H1614.84V1529.68H1615.36V1529.24H1615.89V1529.84H1616.41V1530.73H1616.94V1529.84H1617.46V1530.29H1617.99V1530.15H1618.51V1530.45H1619.04V1530.90H1619.56V1530.31H1620.09V1529.72H1620.61V1531.20H1621.14V1530.31H1621.66V1530.61H1622.19V1530.61H1622.71V1530.76H1623.24V1530.91H1623.76V1530.76H1624.29V1531.36H1624.81V1530.77H1625.34V1530.47H1625.86V1530.47H1626.39V1529.14H1626.91V1530.92H1627.44V1530.18H1627.97V1530.03H1628.49V1529.29H1629.02V1530.77H1629.54V1531.66H1630.07V1530.33H1630.59V1531.37H1631.12V1530.33H1631.64V1531.52H1632.17V1531.07H1632.69V1530.33H1633.22V1530.34H1633.74V1531.08H1634.27V1531.37H1634.79V1531.82H1635.32V1530.78H1635.84V1530.34H1636.37V1531.38H1636.89V1530.94H1637.42V1530.20H1637.94V1530.64H1638.47V1531.09H1638.99V1530.79H1639.52V1531.09H1640.04V1530.64H1640.57V1531.24H1641.09V1530.94H1641.62V1530.65H1642.14V1529.76H1642.67V1530.50H1643.19V1531.69H1643.72V1530.21H1644.24V1530.50H1644.77V1531.10H1645.29V1530.95H1645.82V1531.10H1646.34V1530.06H1646.87V1531.25H1647.39V1530.65H1647.92V1530.50H1648.44V1530.33H1648.97V1530.73H1649.49V1530.19H1650.02V1531.05H1650.54V1530.15H1651.07V1529.40H1651.59V1528.63H1652.12V1525.94H1652.64V1521.60H1653.17V1517.05H1653.69V1519.90H1654.22V1525.11H1654.74V1527.30H1655.27V1529.23H1655.79V1530.65H1656.32V1531.29H1656.84V1530.91H1657.37V1530.43H1657.89V1531.08H1658.42V1531.55H1658.94V1530.82H1659.47V1531.27H1659.99V1530.68H1660.52V1530.83H1661.04V1531.42H1661.57V1531.13H1662.09V1531.42H1662.62V1531.43H1663.14V1530.69H1663.67V1530.39H1664.19V1530.98H1664.72V1531.28H1665.24V1531.28H1665.77V1530.84H1666.29V1530.54H1666.82V1531.14H1667.35V1531.14H1667.87V1529.95H1668.40V1531.44H1668.92V1531.14H1669.45V1531.29H1669.97V1531.44H1670.50V1531.59H1671.02V1530.70H1671.55V1531.44H1672.07V1530.11H1672.60V1531.59H1673.12V1531.00H1673.65V1529.96H1674.17V1531.15H1674.70V1529.67H1675.22V1531.30H1675.75V1531.15H1676.27V1531.75H1676.80V1530.86H1677.32V1531.45H1677.85V1530.86H1678.37V1531.31H1678.90V1531.46H1679.42V1530.72H1679.95V1531.61H1680.47V1531.31H1681.00V1531.16H1681.52V1531.16H1682.05V1531.61H1682.57V1531.17H1683.10V1531.31H1683.62V1531.46H1684.15V1532.21H1684.67V1530.72H1685.20V1531.02H1685.72V1531.47H1686.25V1531.47H1686.77V1531.17H1687.30V1531.03H1687.82V1531.47H1688.35V1531.17H1688.87V1531.17H1689.40V1531.61H1689.92V1531.45H1690.45V1530.97H1690.97V1531.93H1691.50V1529.85H1692.02V1530.19H1692.55V1530.70H1693.07V1530.09H1693.60V1527.28H1694.12V1523.77H1694.65V1520.25H1695.17V1521.80H1695.70V1526.35H1696.22V1528.88H1696.75V1530.22H1697.27V1530.09H1697.80V1530.97H1698.32V1531.45H1698.85V1531.11H1699.37V1531.61H1699.90V1531.78H1700.42V1531.64H1700.95V1531.05H1701.47V1531.64H1702.00V1530.61H1702.52V1531.20H1703.05V1531.35H1703.57V1531.35H1704.10V1531.06H1704.62V1532.09H1705.15V1531.95H1705.67V1531.21H1706.20V1531.36H1706.73V1532.39H1707.25V1530.17H1707.78V1531.95H1708.30V1531.51H1708.83V1531.51H1709.35V1531.36H1709.88V1531.66H1710.40V1531.66H1710.93V1531.81H1711.45V1530.92H1711.98V1531.37H1712.50V1531.96H1713.03V1531.37H1713.55V1532.26H1714.08V1531.37H1714.60V1532.11H1715.13V1531.67H1715.65V1531.52H1716.18V1531.82H1716.70V1531.97H1717.23V1531.38H1717.75V1531.82H1718.28V1531.08H1718.80V1531.97H1719.33V1532.42H1719.85V1532.42H1720.38V1532.12H1720.90V1531.68H1721.43V1531.53H1721.95V1531.68H1722.48V1532.42H1723.00V1531.68H1723.53V1531.53H1724.05V1531.38H1724.58V1531.23H1725.10V1531.23H1725.63V1531.97H1726.15V1531.08H1726.68V1530.93H1727.20V1531.67H1727.73V1531.82H1728.25V1532.11H1728.78V1530.63H1729.30V1532.11H1729.83V1531.96H1730.35V1531.37H1730.88V1531.22H1731.40V1531.37H1731.93V1531.51H1732.45V1531.22H1732.98V1531.96H1733.50V1531.36H1734.03V1532.10H1734.55V1531.51H1735.08V1530.62H1735.60V1530.91H1736.13V1531.65H1736.65V1531.21H1737.18V1531.36H1737.70V1531.65H1738.23V1531.65H1738.75V1531.50H1739.28V1531.35H1739.80V1531.65H1740.33V1532.68H1740.85V1531.20H1741.38V1530.90H1741.90V1531.64H1742.43V1531.94H1742.95V1531.79H1743.48V1531.79H1744.00V1531.34H1744.53V1531.79H1745.05V1530.75H1745.58V1531.34H1746.11V1530.75H1746.63V1531.63H1747.16V1531.63H1747.68V1532.23H1748.21V1532.08H1748.73V1530.89H1749.26V1531.48H1749.78V1531.18H1750.31V1531.18H1750.83V1531.92H1751.36V1530.74H1751.88V1531.18H1752.41V1530.44H1752.93V1530.89H1753.46V1531.48H1753.98V1530.59H1754.51V1531.34H1755.03V1530.89H1755.56V1531.93H1756.08V1531.63H1756.61V1531.34H1757.13V1532.08H1757.66V1530.89H1758.18V1531.93H1758.71V1531.34H1759.23V1530.90H1759.76V1532.23H1760.28V1531.49H1760.81V1532.08H1761.33V1531.49H1761.86V1531.79H1762.38V1531.05H1762.91V1531.64H1763.43V1531.05H1763.96V1531.20H1764.48V1531.94H1765.01V1531.64H1765.53V1531.64H1766.06V1531.35H1766.58V1531.34H1767.11V1531.04H1767.63V1531.77H1768.16V1531.16H1768.68V1532.15H1769.21V1531.03H1769.73V1531.19H1770.26V1530.95H1770.78V1530.27H1771.31V1530.15H1771.83V1529.65H1772.36V1528.30H1772.88V1526.55H1773.41V1524.71H1773.93V1522.54H1774.46V1518.65H1774.98V1506.07H1775.51V1477.55H1776.03V1452.00H1776.56V1455.97H1777.08V1484.48H1777.61V1509.88H1778.13V1520.43H1778.66V1523.54H1779.18V1525.53H1779.71V1526.43H1780.23V1528.42H1780.76V1529.12H1781.28V1529.71H1781.81V1529.94H1782.33V1530.73H1782.86V1530.94H1783.38V1532.11H1783.91V1531.00H1784.43V1531.92H1784.96V1531.80H1785.49V1531.21H1786.01V1531.96H1786.54V1531.66H1787.06V1530.48H1787.59V1531.67H1788.11V1530.78H1788.64V1531.82H1789.16V1531.82H1789.69V1531.67H1790.21V1532.26H1790.74V1531.67H1791.26V1531.52H1791.79V1531.38H1792.31V1531.23H1792.84V1531.67H1793.36V1531.08H1793.89V1531.67H1794.41V1531.23H1794.94V1531.97H1795.46V1531.97H1795.99V1531.97H1796.51V1531.08H1797.04V1531.08H1797.56V1530.49H1798.09V1531.97H1798.61V1532.12H1799.14V1531.53H1799.66V1531.24H1800.19V1531.09H1800.71V1531.83H1801.24V1531.83H1801.76V1531.98H1802.29V1531.68H1802.81V1531.68H1803.34V1531.83H1803.86V1531.83H1804.39V1531.68H1804.91V1531.83H1805.44V1531.54H1805.96V1532.28H1806.49V1531.24H1807.01V1531.83H1807.54V1531.69H1808.06V1531.83H1808.59V1532.13H1809.11V1531.69H1809.64V1531.98H1810.16V1531.98H1810.69V1531.84H1811.21V1531.69H1811.74V1531.69H1812.26V1531.39H1812.79V1531.84H1813.31V1531.25H1813.84V1531.25H1814.36V1532.28H1814.89V1532.14H1815.41V1531.69H1815.94V1531.54H1816.46V1531.84H1816.99V1531.55H1817.51V1531.84H1818.04V1531.99H1818.56V1531.55H1819.09V1531.99H1819.61V1532.44H1820.14V1531.25H1820.66V1531.55H1821.19V1531.84H1821.71V1531.99H1822.24V1531.55H1822.76V1531.85H1823.29V1531.99H1823.81V1531.70H1824.34V1531.85H1824.87V1531.99H1825.39V1531.84H1825.92V1531.83H1826.44V1531.96H1826.97V1531.33H1827.49V1531.98H1828.02V1531.39H1828.54V1531.14H1829.07V1531.21H1829.59V1530.24H1830.12V1529.38H1830.64V1528.67H1831.17V1524.72H1831.69V1515.03H1832.22V1499.34H1832.74V1489.45H1833.27V1499.26H1833.79V1515.67H1834.32V1525.09H1834.84V1528.25H1835.37V1529.69H1835.89V1530.99H1836.42V1530.78H1836.94V1532.04H1837.47V1531.25H1837.99V1531.70H1838.52V1532.08H1839.04V1532.42H1839.57V1532.14H1840.09V1531.56H1840.62V1532.01H1841.14V1532.16H1841.67V1532.31H1842.19V1531.86H1842.72V1532.45H1843.24V1532.01H1843.77V1531.86H1844.29V1532.31H1844.82V1532.31H1845.34V1531.72H1845.87V1532.16H1846.39V1532.46H1846.92V1532.01H1847.44V1532.01H1847.97V1532.16H1848.49V1532.31H1849.02V1531.87H1849.54V1531.72H1850.07V1531.57H1850.59V1532.16H1851.12V1532.16H1851.64V1532.02H1852.17V1532.17H1852.69V1531.87H1853.22V1531.13H1853.74V1532.46H1854.27V1532.17H1854.79V1531.87H1855.32V1531.72H1855.84V1532.17H1856.37V1532.17H1856.89V1531.72H1857.42V1531.87H1857.94V1531.73H1858.47V1531.58H1858.99V1532.17H1859.52V1531.87H1860.04V1531.28H1860.57V1532.17H1861.09V1531.14H1861.62V1532.32H1862.14V1532.03H1862.67V1531.73H1863.19V1531.43H1863.72V1532.17H1864.25V1531.88H1864.77V1532.32H1865.30V1532.03H1865.82V1532.47H1866.35V1531.44H1866.87V1531.73H1867.40V1531.73H1867.92V1531.88H1868.45V1532.18H1868.97V1532.33H1869.50V1532.18H1870.02V1532.33H1870.55V1532.33H1871.07V1531.88H1871.60V1532.18H1872.12V1532.33H1872.65V1531.44H1873.17V1531.89H1873.70V1532.33H1874.22V1531.89H1874.75V1532.04H1875.27V1532.04H1875.80V1531.89H1876.32V1532.04H1876.85V1532.48H1877.37V1532.19H1877.90V1532.48H1878.42V1532.19H1878.95V1531.89H1879.47V1532.04H1880.00V1532.34H1880.52V1532.48H1881.05V1531.89H1881.57V1532.04H1882.10V1532.63H1882.62V1532.34H1883.15V1531.89H1883.67V1531.89H1884.20V1532.34H1884.72V1531.89H1885.25V1532.04H1885.77V1532.34H1886.30V1532.19H1886.82V1531.90H1887.35V1532.34H1887.87V1532.05H1888.40V1531.75H1888.92V1532.19H1889.45V1531.90H1889.97V1532.20H1890.50V1532.20H1891.02V1532.05H1891.55V1532.05H1892.07V1531.90H1892.60V1532.05H1893.12V1531.90H1893.65V1531.90H1894.17V1531.31H1894.70V1532.05H1895.22V1532.50H1895.75V1532.05H1896.27V1532.35H1896.80V1532.35H1897.32V1531.90H1897.85V1531.90H1898.37V1532.35H1898.90V1532.35H1899.42V1532.35H1899.95V1531.91H1900.47V1532.20H1901.00V1532.05H1901.52V1532.20H1902.05V1532.35H1902.57V1532.20H1903.10V1532.06H1903.63V1532.50H1904.15V1532.20H1904.68V1532.50H1905.20V1532.20H1905.73V1532.65H1906.25V1532.20H1906.78V1531.91H1907.30V1532.20H1907.83V1532.06H1908.35V1532.50H1908.88V1532.20H1909.40V1532.06H1909.93V1532.20H1910.45V1531.91H1910.98V1532.20H1911.50V1531.76H1912.03V1532.50H1912.55V1532.20H1913.08V1532.50H1913.60V1532.06H1914.13V1532.50H1914.65V1532.06H1915.18V1532.20H1915.70V1532.35H1916.23V1531.91H1916.75V1532.06H1917.28V1532.21H1917.80V1532.06H1918.33V1532.06H1918.85V1532.21H1919.38V1532.35H1919.90V1532.06H1920.43V1532.35H1920.95V1532.21H1921.48V1531.91H1922.00V1532.21H1922.53V1532.06H1923.05V1532.35H1923.58V1532.21H1924.10V1531.76H1924.63V1532.21H1925.15V1532.35H1925.68V1532.06H1926.20V1532.35H1926.73V1531.76H1927.25V1532.21H1927.78V1532.35H1928.30V1532.21H1928.83V1532.21H1929.35V1531.76H1929.88V1532.21H1930.40V1532.06H1930.93V1532.36H1931.45V1532.65H1931.98V1531.91H1932.50V1532.21H1933.03V1532.36H1933.55V1532.36H1934.08V1532.21H1934.60V1532.06H1935.13V1532.80H1935.65V1532.65H1936.18V1532.06H1936.70V1532.65H1937.23V1531.62H1937.75V1532.21H1938.28V1532.36H1938.80V1532.50H1939.33V1531.76H1939.85V1532.50H1940.38V1532.36H1940.90V1532.36H1941.43V1532.21H1941.95V1532.50H1942.48V1532.36H1943.01V1532.06H1943.53V1531.76H1944.06V1532.36H1944.58V1531.76H1945.11V1531.76H1945.63V1532.65H1946.16V1532.06H1946.68V1531.17H1947.21V1532.65H1947.73V1532.36H1948.26V1532.36H1948.78V1532.51H1949.31V1532.06H1949.83V1532.21H1950.36V1532.51H1950.88V1532.21H1951.41V1532.36H1951.93V1532.21H1952.46V1532.06H1952.98V1532.36H1953.51V1532.21H1954.03V1532.21H1954.56V1532.65H1955.08V1532.06H1955.61V1532.21H1956.13V1532.21H1956.66V1532.06H1957.18V1531.91H1957.71V1532.36H1958.23V1532.21H1958.76V1532.65H1959.28V1532.36H1959.81V1531.91H1960.33V1532.36H1960.86V1532.36H1961.38V1532.06H1961.91V1532.51H1962.43V1532.36H1962.96V1532.66H1963.48V1532.66H1964.01V1532.66H1964.53V1532.06H1965.06V1532.66H1965.58V1532.36H1966.11V1532.51H1966.63V1531.77H1967.16V1531.92H1967.68V1531.77H1968.21V1532.21H1968.73V1532.36H1969.26V1532.36H1969.78V1532.21H1970.31V1532.06H1970.83V1532.06H1971.36V1532.36H1971.88V1532.51H1972.41V1532.36H1972.93V1532.06H1973.46V1532.21H1973.98V1531.77H1974.51V1532.06H1975.03V1532.06H1975.56V1532.66H1976.08V1531.62H1976.61V1532.06H1977.13V1531.77H1977.66V1532.21H1978.18V1532.66H1978.71V1532.51H1979.23V1531.92H1979.76V1532.66H1980.28V1532.36H1980.81V1532.21H1981.33V1532.21H1981.86V1532.66H1982.39V1532.07H1982.91V1532.36H1983.44V1532.36H1983.96V1532.21H1984.49V1532.21H1985.01V1531.77H1985.54V1532.07H1986.06V1532.51H1986.59V1532.07H1987.11V1532.36H1987.64V1532.51H1988.16V1532.21H1988.69V1532.07H1989.21V1532.07H1989.74V1532.51H1990.26V1531.77H1990.79V1532.21H1991.31V1532.07H1991.84V1532.21H1992.36V1532.21H1992.89V1532.21H1993.41V1532.22H1993.94V1532.07H1994.46V1532.51H1994.99V1532.36H1995.51V1532.22H1996.04V1531.47H1996.56V1532.36H1997.09V1531.47H1997.61V1532.36H1998.14V1532.36H1998.66V1532.22H1999.19V1531.92H1999.71V1532.51H2000.24V1532.07H2000.76V1532.07H2001.29V1532.36H2001.81V1532.51H2002.34V1532.07H2002.86V1532.22H2003.39V1532.22H2003.91V1532.51H2004.44V1532.22H2004.96V1532.66H2005.49V1532.07H2006.01V1531.63H2006.54V1532.52H2007.06V1532.52H2007.59V1532.81H2008.11V1532.66H2008.64V1532.52H2009.16V1531.33H2009.69V1532.22H2010.21V1532.52H2010.74V1531.33H2011.26V1532.22H2011.79V1531.78H2012.31V1532.82H2012.84V1532.22H2013.36V1532.37H2013.89V1532.52H2014.41V1532.52H2014.94V1532.22H2015.46V1532.22H2015.99V1532.22H2016.51V1532.52H2017.04V1532.22H2017.56V1532.52H2018.09V1532.08H2018.61V1531.93H2019.14V1532.23H2019.66V1532.23H2020.19V1532.37H2020.71V1532.08H2021.24V1532.23H2021.77V1532.82H2022.29V1532.38H2022.82V1532.38H2023.34V1532.23H2023.87V1532.52H2024.39V1532.53H2024.92V1532.38H2025.44V1532.38H2025.97V1532.67H2026.49V1532.82H2027.02V1532.53H2027.54V1532.38H2028.07V1532.82H2028.59V1532.82H2029.12V1532.23H2029.64V1532.38H2030.17V1532.08H2030.69V1532.23H2031.22V1532.53H2031.74V1532.53H2032.27V1532.38H2032.79V1532.08H2033.32V1532.23H2033.84V1532.23H2034.37V1532.23H2034.89V1532.53H2035.42V1532.83H2035.94V1532.38H2036.47V1532.38H2036.99V1531.79H2037.52V1532.38H2038.04V1532.24H2038.57V1531.79H2039.09V1532.68H2039.62V1532.53H2040.14V1532.53H2040.67V1532.39H2041.19V1532.24H2041.72V1532.68H2042.24V1532.24H2042.77V1532.53H2043.29V1532.68H2043.82V1532.54H2044.34V1532.39H2044.87V1532.39H2045.39V1532.39H2045.92V1532.39H2046.44V1531.94H2046.97V1532.39H2047.49V1532.69H2048.02V1532.69H2048.54V1532.24H2049.07V1532.83H2049.59V1532.69H2050.12V1532.39H2050.64V1532.69H2051.17V1532.69H2051.69V1532.39H2052.22V1532.39H2052.74V1532.69H2053.27V1532.24H2053.79V1532.24H2054.32V1532.39H2054.84V1532.69H2055.37V1532.10H2055.89V1532.10H2056.42V1532.69H2056.94V1532.54H2057.47V1532.39H2057.99V1532.69H2058.52V1532.25H2059.04V1532.40H2059.57V1532.54H2060.09V1532.69H2060.62V1532.54H2061.15V1532.69H2061.67V1532.25H2062.20V1532.25H2062.72V1532.84H2063.25V1532.55H2063.77V1532.55H2064.30V1532.69H2064.82V1532.69H2065.35V1532.69H2065.87V1532.10H2066.40V1532.55H2066.92V1532.55H2067.45V1532.55H2067.97V1532.10H2068.50V1532.25H2069.02V1532.40H2069.55V1532.55H2070.07V1532.55H2070.60V1532.70H2071.12V1532.40H2071.65V1532.11H2072.17V1532.40H2072.70V1532.25H2073.22V1532.25H2073.75V1532.85H2074.27V1532.40H2074.80V1532.85H2075.32V1532.70H2075.85V1532.40H2076.37V1532.40H2076.90V1532.55H2077.42V1532.26H2077.95V1532.55H2078.47V1532.55H2079.00V1532.70H2079.52V1532.26H2080.05V1532.85H2080.57V1532.26H2081.10V1532.11H2081.62V1532.85H2082.15V1532.11H2082.67V1532.41H2083.20V1532.11H2083.72V1532.85H2084.25V1532.56H2084.77V1532.41H2085.30V1532.71H2085.82V1532.71H2086.35V1532.56H2086.87V1532.71H2087.40V1532.85H2087.92V1532.56H2088.45V1532.56H2088.97V1532.41H2089.50V1532.71H2090.02V1532.86H2090.55V1532.71H2091.07V1532.41H2091.60V1532.71H2092.12V1532.71H2092.65V1532.86H2093.17V1532.56H2093.70V1532.86H2094.22V1532.71H2094.75V1532.71H2095.27V1532.41H2095.80V1532.27H2096.32V1532.56H2096.85V1532.41H2097.37V1532.71H2097.90V1532.71H2098.42V1532.42H2098.95V1532.56H2099.47V1532.86H2100.00" fill="none" stroke="#000099" stroke-width="6.3" stroke-linejoin="miter" stroke-miterlimit="10"/>
<rect x="327.9" y="173.3" width="1772.10" height="1359.60" fill="none" stroke="#000" stroke-width="3.4"/><path d="M327.90 1532.90H363.90M327.90 1498.04H345.90M327.90 1463.18H345.90M327.90 1428.32H345.90M327.90 1393.45H345.90M327.90 1358.59H363.90M327.90 1323.73H345.90M327.90 1288.87H345.90M327.90 1254.01H345.90M327.90 1219.15H345.90M327.90 1184.28H363.90M327.90 1149.42H345.90M327.90 1114.56H345.90M327.90 1079.70H345.90M327.90 1044.84H345.90M327.90 1009.98H363.90M327.90 975.12H345.90M327.90 940.25H345.90M327.90 905.39H345.90M327.90 870.53H345.90M327.90 835.67H363.90M327.90 800.81H345.90M327.90 765.95H345.90M327.90 731.08H345.90M327.90 696.22H345.90M327.90 661.36H363.90M327.90 626.50H345.90M327.90 591.64H345.90M327.90 556.78H345.90M327.90 521.92H345.90M327.90 487.05H363.90M327.90 452.19H345.90M327.90 417.33H345.90M327.90 382.47H345.90M327.90 347.61H345.90M327.90 312.75H363.90M327.90 277.88H345.90M327.90 243.02H345.90M327.90 208.16H345.90M327.90 173.30H345.90M327.90 1532.90V1519.90M393.53 1532.90V1519.90M459.17 1532.90V1519.90M524.80 1532.90V1505.90M590.43 1532.90V1519.90M656.07 1532.90V1519.90M721.70 1532.90V1519.90M787.33 1532.90V1505.90M852.97 1532.90V1519.90M918.60 1532.90V1519.90M984.23 1532.90V1519.90M1049.87 1532.90V1505.90M1115.50 1532.90V1519.90M1181.13 1532.90V1519.90M1246.77 1532.90V1519.90M1312.40 1532.90V1505.90M1378.03 1532.90V1519.90M1443.67 1532.90V1519.90M1509.30 1532.90V1519.90M1574.93 1532.90V1505.90M1640.57 1532.90V1519.90M1706.20 1532.90V1519.90M1771.83 1532.90V1519.90M1837.47 1532.90V1505.90M1903.10 1532.90V1519.90M1968.73 1532.90V1519.90M2034.37 1532.90V1519.90M2100.00 1532.90V1505.90" stroke="#000" stroke-width="3.2" fill="none"/>
<path d="M378.20 371.00H406.00L392.10 398.20Z" fill="#da0000"/><path d="M511.60 1281.40H539.40L525.50 1308.60Z" fill="#da0000"/><path d="M618.60 1047.20H646.40L632.50 1074.40Z" fill="#da0000"/><path d="M797.40 1242.80H825.20L811.30 1270.00Z" fill="#da0000"/><path d="M1085.60 1416.70H1113.40L1099.50 1443.90Z" fill="#da0000"/><path d="M1284.80 1424.90H1312.60L1298.70 1452.10Z" fill="#da0000"/><path d="M1416.10 1459.40H1443.90L1430.00 1486.60Z" fill="#da0000"/><path d="M1443.80 1451.20H1471.60L1457.70 1478.40Z" fill="#da0000"/><path d="M1762.60 1438.40H1790.40L1776.50 1465.60Z" fill="#da0000"/>
<rect x="1817.2" y="111.2" width="471.5" height="287.9" fill="#fff" stroke="#000" stroke-width="2.9"/><path d="M1817.2 255.5H2288.7" stroke="#000" stroke-width="2.9"/>
<text transform="translate(1135.75 70.00) scale(1.0000 0.9981) translate(-577.55 22.45)" font-family="'Liberation Sans', Arial, Helvetica, sans-serif" font-weight="normal" font-size="86.33" fill="#000">Ge detector - Eu152 spectrum</text>
<text transform="translate(2041.15 183.00) scale(0.9965 1.0194) translate(-212.52 13.94)" font-family="'Liberation Sans', Arial, Helvetica, sans-serif" font-weight="normal" font-size="56.9" fill="#000">Ge_Eu152_spec</text>
<text transform="translate(1927.30 323.10) scale(1.0018 0.9832) translate(-89.90 20.48)" font-family="'Liberation Sans', Arial, Helvetica, sans-serif" font-weight="normal" font-size="56.9" fill="#000">Entries</text>
<text transform="translate(2161.55 323.10) scale(0.9997 1.0197) translate(-95.02 19.63)" font-family="'Liberation Sans', Arial, Helvetica, sans-serif" font-weight="normal" font-size="56.9" fill="#000">747705</text>
<text transform="translate(88.22 701.93) rotate(-90)" font-family="'Liberation Sans', Arial, Helvetica, sans-serif" font-weight="normal" font-size="84.5" fill="#000">Counts/4 Adc</text>
<text transform="translate(1723.05 1717.00) scale(1.0000 0.9932) translate(-337.12 21.72)" font-family="'Liberation Sans', Arial, Helvetica, sans-serif" font-weight="normal" font-size="83.55" fill="#000">Pulse height [Adc]</text>
<text transform="translate(440.70 321.65) scale(0.9977 1.0244) translate(-82.60 18.88)" font-family="'Liberation Serif', 'Times New Roman', serif" font-weight="bold" font-size="59.0" fill="#e16250">121.78</text>
<text transform="translate(643.65 1004.90) scale(0.9999 1.0271) translate(-81.42 18.58)" font-family="'Liberation Serif', 'Times New Roman', serif" font-weight="bold" font-size="59.0" fill="#e16250">344.28</text>
<text transform="translate(523.45 1234.00) scale(1.0100 1.0524) translate(-81.12 18.58)" font-family="'Liberation Serif', 'Times New Roman', serif" font-weight="bold" font-size="59.0" fill="#e16250">244.69</text>
<text transform="translate(815.60 1205.15) scale(1.0074 1.0394) translate(-64.90 18.88)" font-family="'Liberation Serif', 'Times New Roman', serif" font-weight="bold" font-size="59.0" fill="#8dba4d">511.0</text>
<text transform="translate(1093.70 1372.25) scale(1.0067 1.0549) translate(-81.71 18.58)" font-family="'Liberation Serif', 'Times New Roman', serif" font-weight="bold" font-size="59.0" fill="#e16250">778.90</text>
<text transform="translate(1285.70 1371.95) scale(0.9980 1.0600) translate(-81.12 18.58)" font-family="'Liberation Serif', 'Times New Roman', serif" font-weight="bold" font-size="59.0" fill="#e16250">964.06</text>
<text transform="translate(1480.65 1237.75) scale(0.9906 1.0394) translate(-97.64 18.88)" font-family="'Liberation Serif', 'Times New Roman', serif" font-weight="bold" font-size="59.0" fill="#e16250">1085.84</text>
<text transform="translate(1479.75 1313.15) scale(1.0146 1.0347) translate(-24.78 18.58)" font-family="'Liberation Serif', 'Times New Roman', serif" font-weight="bold" font-size="59.0" fill="#e16250">&amp;</text>
<text transform="translate(1480.70 1388.60) scale(0.9990 1.0419) translate(-94.10 18.88)" font-family="'Liberation Serif', 'Times New Roman', serif" font-weight="bold" font-size="59.0" fill="#e16250">1112.08</text>
<text transform="translate(1776.35 1371.90) scale(0.9979 1.0369) translate(-96.76 18.88)" font-family="'Liberation Serif', 'Times New Roman', serif" font-weight="bold" font-size="59.0" fill="#e16250">1408.01</text>
<text transform="translate(1914.60 1446.75) scale(1.0029 1.0244) translate(-97.05 18.88)" font-family="'Liberation Serif', 'Times New Roman', serif" font-weight="bold" font-size="59.0" fill="#8dba4d">1460.82</text>
<text transform="translate(241.75 1357.09) scale(1.0151 1.0350) translate(-67.80 20.70)" font-family="'Liberation Sans', Arial, Helvetica, sans-serif" font-weight="normal" font-size="60.0" fill="#000">1000</text>
<text transform="translate(241.75 1182.78) scale(1.0008 1.0350) translate(-66.90 20.70)" font-family="'Liberation Sans', Arial, Helvetica, sans-serif" font-weight="normal" font-size="60.0" fill="#000">2000</text>
<text transform="translate(241.75 1008.48) scale(0.9961 1.0350) translate(-66.60 20.70)" font-family="'Liberation Sans', Arial, Helvetica, sans-serif" font-weight="normal" font-size="60.0" fill="#000">3000</text>
<text transform="translate(241.75 834.17) scale(0.9869 1.0350) translate(-66.00 20.70)" font-family="'Liberation Sans', Arial, Helvetica, sans-serif" font-weight="normal" font-size="60.0" fill="#000">4000</text>
<text transform="translate(241.75 659.86) scale(0.9961 1.0350) translate(-66.60 20.70)" font-family="'Liberation Sans', Arial, Helvetica, sans-serif" font-weight="normal" font-size="60.0" fill="#000">5000</text>
<text transform="translate(241.75 485.55) scale(1.0008 1.0350) translate(-66.90 20.70)" font-family="'Liberation Sans', Arial, Helvetica, sans-serif" font-weight="normal" font-size="60.0" fill="#000">6000</text>
<text transform="translate(241.75 311.25) scale(1.0008 1.0350) translate(-66.90 20.70)" font-family="'Liberation Sans', Arial, Helvetica, sans-serif" font-weight="normal" font-size="60.0" fill="#000">7000</text>
<text transform="translate(298.00 1532.50) scale(1.0347 1.0253) translate(-16.80 20.70)" font-family="'Liberation Sans', Arial, Helvetica, sans-serif" font-weight="normal" font-size="60.0" fill="#000">0</text>
<text transform="translate(519.55 1572.30) scale(1.0023 1.0350) translate(-66.90 20.70)" font-family="'Liberation Sans', Arial, Helvetica, sans-serif" font-weight="normal" font-size="60.0" fill="#000">2000</text>
<text transform="translate(780.05 1572.30) scale(0.9992 1.0350) translate(-66.00 20.70)" font-family="'Liberation Sans', Arial, Helvetica, sans-serif" font-weight="normal" font-size="60.0" fill="#000">4000</text>
<text transform="translate(1041.25 1572.30) scale(1.0086 1.0350) translate(-66.90 20.70)" font-family="'Liberation Sans', Arial, Helvetica, sans-serif" font-weight="normal" font-size="60.0" fill="#000">6000</text>
<text transform="translate(1305.35 1572.30) scale(1.0039 1.0350) translate(-66.60 20.70)" font-family="'Liberation Sans', Arial, Helvetica, sans-serif" font-weight="normal" font-size="60.0" fill="#000">8000</text>
<text transform="translate(1569.15 1572.30) scale(0.9806 1.0350) translate(-84.60 20.70)" font-family="'Liberation Sans', Arial, Helvetica, sans-serif" font-weight="normal" font-size="60.0" fill="#000">10000</text>
<text transform="translate(1833.05 1572.30) scale(0.9818 1.0350) translate(-84.60 20.70)" font-family="'Liberation Sans', Arial, Helvetica, sans-serif" font-weight="normal" font-size="60.0" fill="#000">12000</text>
<text transform="translate(2094.75 1572.30) scale(0.9906 1.0350) translate(-84.60 20.70)" font-family="'Liberation Sans', Arial, Helvetica, sans-serif" font-weight="normal" font-size="60.0" fill="#000">14000</text>
</svg></body></html>
